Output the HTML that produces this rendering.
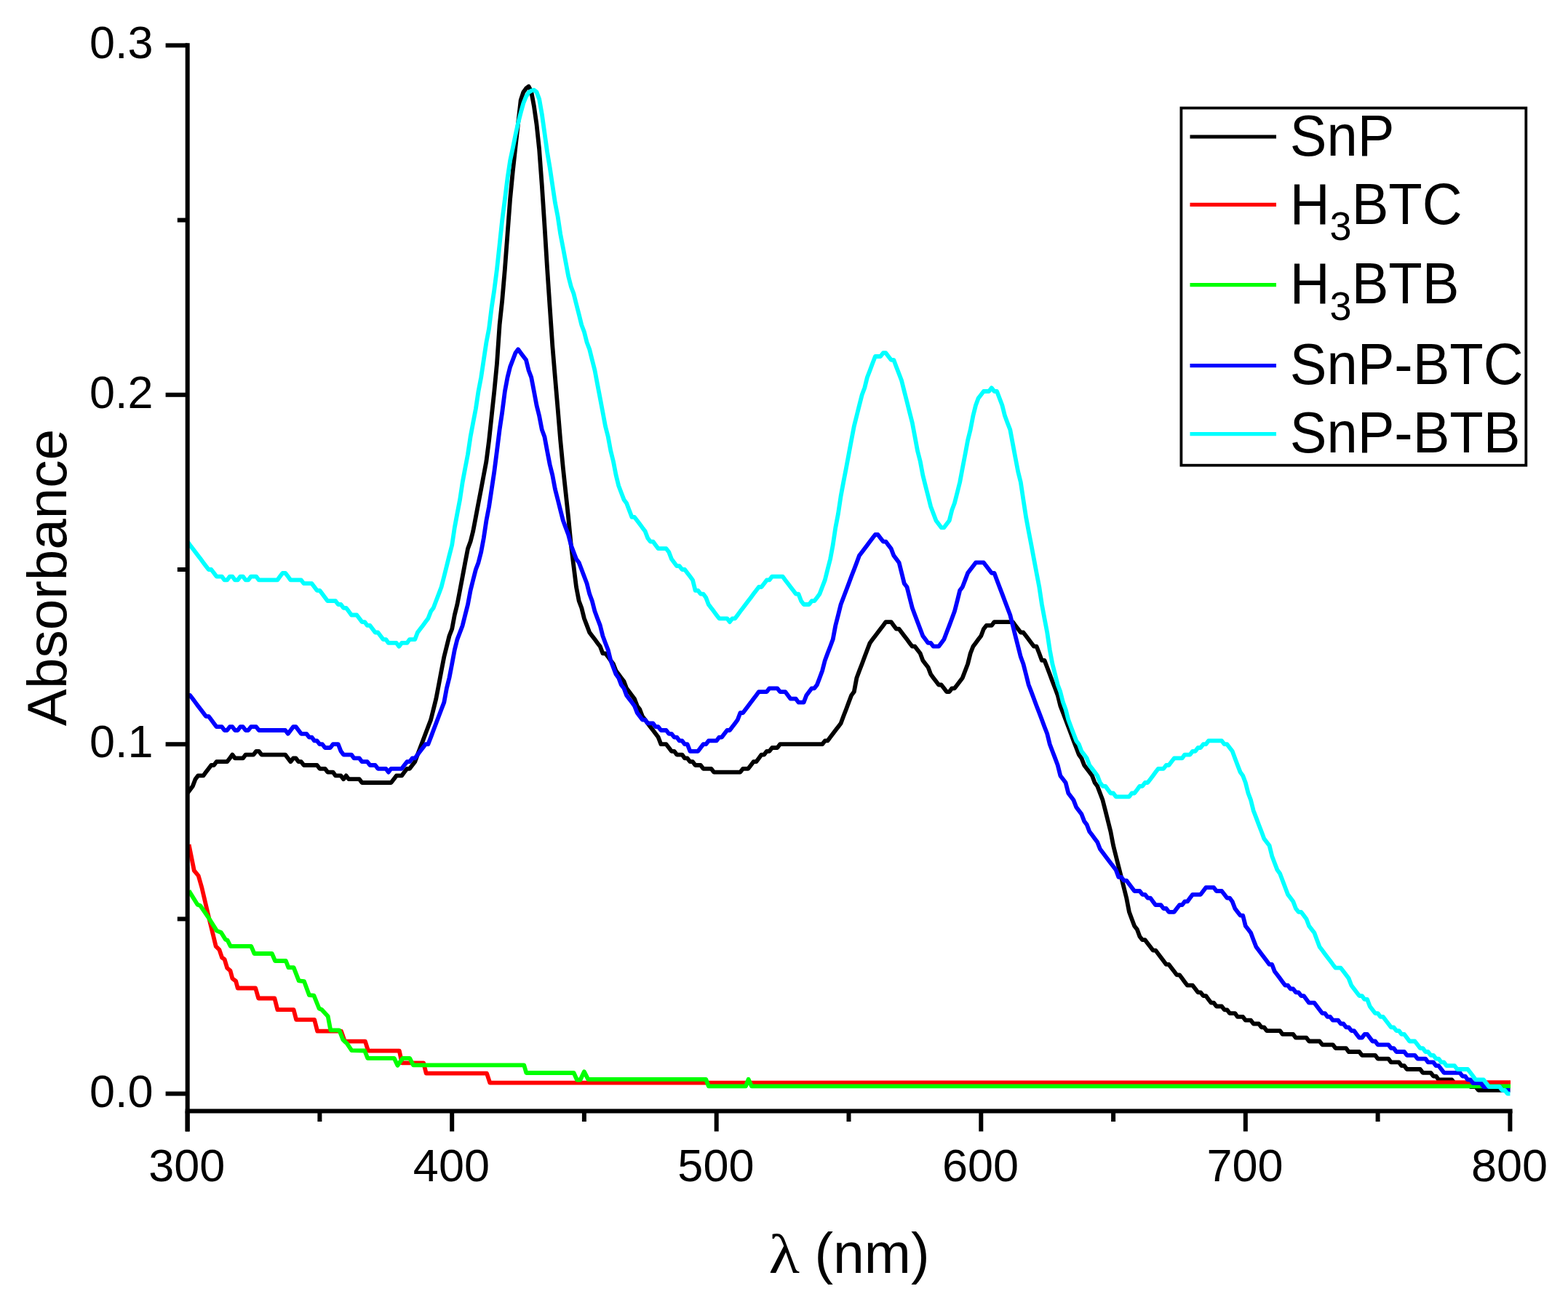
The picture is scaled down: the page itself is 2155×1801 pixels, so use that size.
<!DOCTYPE html>
<html lang="en"><head><meta charset="utf-8"><title>Absorbance</title>
<style>html,body{margin:0;padding:0;background:#fff}body{width:2155px;height:1801px;overflow:hidden}svg{display:block}text{font-family:"Liberation Sans",Arial,sans-serif;fill:#000}.lam{font-family:"Liberation Serif","DejaVu Serif",serif}</style></head><body>
<svg width="2155" height="1801" viewBox="0 0 2155 1801">
<rect width="2155" height="1801" fill="#fff"/>
<g fill="none" stroke-width="5.8" stroke-linejoin="round" stroke-linecap="butt">
<path stroke="#000000" d="M257.6 1090.5 L261.2 1085.7 L264.9 1080.8 L268.5 1071.2 L272.1 1066.4 L279.4 1066.4 L283.0 1061.6 L286.7 1056.8 L290.3 1052.0 L294.0 1052.0 L297.6 1047.2 L312.1 1047.2 L315.8 1042.4 L319.4 1037.6 L323.0 1042.4 L333.9 1042.4 L337.6 1037.6 L348.5 1037.6 L352.1 1032.8 L355.8 1032.8 L359.4 1037.6 L392.1 1037.6 L395.8 1042.4 L399.4 1047.2 L403.0 1042.4 L406.7 1042.4 L410.3 1047.2 L413.9 1047.2 L417.6 1052.0 L435.7 1052.0 L439.4 1056.8 L446.7 1056.8 L450.3 1061.6 L457.6 1061.6 L461.2 1066.4 L468.5 1066.4 L472.1 1071.2 L475.7 1066.4 L479.4 1071.2 L493.9 1071.2 L497.5 1076.0 L537.5 1076.0 L541.2 1071.2 L544.8 1066.4 L552.1 1066.4 L555.7 1061.6 L559.4 1056.8 L563.0 1056.8 L566.6 1052.0 L570.3 1047.2 L573.9 1037.6 L577.5 1028.0 L581.2 1018.4 L584.8 1008.8 L588.4 999.2 L592.1 989.6 L595.7 975.2 L599.3 960.7 L603.0 941.5 L606.6 922.3 L610.3 903.1 L613.9 888.7 L617.5 874.3 L621.2 864.7 L624.8 845.5 L628.4 831.0 L632.1 811.8 L635.7 792.6 L639.3 773.4 L643.0 754.2 L646.6 744.6 L650.2 730.2 L653.9 710.9 L657.5 691.7 L661.2 672.5 L664.8 653.3 L668.4 634.1 L672.1 605.3 L675.7 571.6 L679.3 538.0 L683.0 499.6 L686.6 446.7 L690.2 413.1 L693.9 369.9 L697.5 321.8 L701.1 273.8 L704.8 235.4 L708.4 202.7 L712.1 169.4 L715.7 137.7 L719.3 126.7 L723.0 121.6 L726.6 118.7 L730.2 126.1 L733.9 145.9 L737.5 171.0 L741.1 205.1 L744.8 255.0 L748.4 309.6 L752.0 367.7 L755.7 422.7 L759.3 475.5 L762.9 518.8 L766.6 562.0 L770.2 605.3 L773.9 643.7 L777.5 677.3 L781.1 710.9 L784.8 749.4 L788.4 778.2 L792.0 807.0 L795.7 826.2 L799.3 835.8 L802.9 850.3 L806.6 859.9 L810.2 869.5 L813.8 874.3 L817.5 879.1 L821.1 883.9 L824.8 888.7 L828.4 898.3 L832.0 898.3 L835.7 903.1 L839.3 907.9 L842.9 912.7 L846.6 922.3 L850.2 927.1 L853.8 931.9 L857.5 936.7 L861.1 946.3 L864.7 951.1 L868.4 955.9 L872.0 960.7 L875.7 970.4 L879.3 975.2 L882.9 984.8 L886.6 989.6 L890.2 994.4 L893.8 999.2 L897.5 1004.0 L901.1 1008.8 L904.7 1013.6 L908.4 1023.2 L915.6 1023.2 L919.3 1028.0 L922.9 1032.8 L926.6 1032.8 L930.2 1037.6 L937.5 1037.6 L941.1 1042.4 L944.7 1042.4 L948.4 1047.2 L952.0 1047.2 L955.6 1052.0 L962.9 1052.0 L966.5 1056.8 L977.4 1056.8 L981.1 1061.6 L1017.4 1061.6 L1021.1 1056.8 L1028.3 1056.8 L1032.0 1052.0 L1035.6 1047.2 L1039.3 1047.2 L1042.9 1042.4 L1046.5 1037.6 L1050.2 1037.6 L1053.8 1032.8 L1057.4 1032.8 L1061.1 1028.0 L1068.3 1028.0 L1072.0 1023.2 L1130.1 1023.2 L1133.8 1018.4 L1137.4 1018.4 L1141.1 1013.6 L1144.7 1008.8 L1148.3 1004.0 L1152.0 999.2 L1155.6 994.4 L1159.2 984.8 L1162.9 975.2 L1166.5 965.6 L1170.1 955.9 L1173.8 951.1 L1177.4 931.9 L1181.0 922.3 L1184.7 912.7 L1188.3 903.1 L1191.9 893.5 L1195.6 883.9 L1199.2 879.1 L1202.9 874.3 L1206.5 869.5 L1210.1 864.7 L1213.8 859.9 L1217.4 855.1 L1224.7 855.1 L1228.3 859.9 L1231.9 864.7 L1235.6 864.7 L1239.2 869.5 L1242.8 874.3 L1246.5 879.1 L1250.1 883.9 L1253.8 888.7 L1257.4 888.7 L1261.0 893.5 L1264.7 898.3 L1268.3 907.9 L1271.9 912.7 L1275.6 917.5 L1279.2 927.1 L1282.8 931.9 L1286.5 936.7 L1290.1 941.5 L1293.7 941.5 L1297.4 946.3 L1301.0 951.1 L1304.7 951.1 L1308.3 946.3 L1311.9 946.3 L1315.6 941.5 L1319.2 936.7 L1322.8 931.9 L1326.5 922.3 L1330.1 912.7 L1333.7 898.3 L1337.4 888.7 L1341.0 883.9 L1344.6 879.1 L1348.3 874.3 L1351.9 864.7 L1355.6 859.9 L1362.8 859.9 L1366.5 855.1 L1391.9 855.1 L1395.5 859.9 L1399.2 864.7 L1402.8 869.5 L1406.4 869.5 L1410.1 874.3 L1413.7 879.1 L1417.4 883.9 L1421.0 888.7 L1424.6 888.7 L1428.3 898.3 L1431.9 907.9 L1435.5 907.9 L1439.2 917.5 L1442.8 927.1 L1446.4 936.7 L1450.1 946.3 L1453.7 955.9 L1457.3 970.4 L1461.0 980.0 L1464.6 989.6 L1468.3 999.2 L1471.9 1008.8 L1475.5 1018.4 L1479.2 1028.0 L1482.8 1037.6 L1486.4 1042.4 L1490.1 1052.0 L1493.7 1056.8 L1497.3 1061.6 L1501.0 1066.4 L1504.6 1076.0 L1508.2 1080.8 L1511.9 1090.5 L1515.5 1100.1 L1519.2 1114.5 L1522.8 1128.9 L1526.4 1143.3 L1530.1 1162.5 L1533.7 1176.9 L1537.3 1191.3 L1541.0 1205.8 L1544.6 1220.2 L1548.2 1234.6 L1551.9 1253.8 L1555.5 1263.4 L1559.1 1273.0 L1562.8 1277.8 L1566.4 1287.4 L1570.1 1292.2 L1573.7 1292.2 L1577.3 1297.0 L1581.0 1301.8 L1584.6 1306.6 L1588.2 1306.6 L1591.9 1311.4 L1595.5 1316.2 L1599.1 1321.0 L1602.8 1325.9 L1606.4 1325.9 L1610.0 1330.7 L1613.7 1335.5 L1617.3 1340.3 L1621.0 1340.3 L1624.6 1345.1 L1628.2 1349.9 L1631.9 1354.7 L1639.1 1354.7 L1642.8 1359.5 L1646.4 1364.3 L1650.0 1364.3 L1653.7 1369.1 L1657.3 1369.1 L1660.9 1373.9 L1664.6 1378.7 L1668.2 1378.7 L1671.8 1383.5 L1679.1 1383.5 L1682.8 1388.3 L1686.4 1388.3 L1690.0 1393.1 L1697.3 1393.1 L1700.9 1397.9 L1708.2 1397.9 L1711.8 1402.7 L1719.1 1402.7 L1722.7 1407.5 L1730.0 1407.5 L1733.7 1412.3 L1737.3 1412.3 L1740.9 1417.1 L1759.1 1417.1 L1762.7 1421.9 L1777.3 1421.9 L1780.9 1426.7 L1795.5 1426.7 L1799.1 1431.5 L1813.6 1431.5 L1817.3 1436.3 L1831.8 1436.3 L1835.5 1441.1 L1850.0 1441.1 L1853.6 1446.0 L1868.2 1446.0 L1871.8 1450.8 L1890.0 1450.8 L1893.6 1455.6 L1908.2 1455.6 L1911.8 1460.4 L1922.7 1460.4 L1926.3 1465.2 L1930.0 1465.2 L1933.6 1470.0 L1951.8 1470.0 L1955.4 1474.8 L1966.3 1474.8 L1970.0 1479.6 L1973.6 1479.6 L1977.2 1484.4 L1995.4 1484.4 L1999.1 1489.2 L2017.2 1489.2 L2020.9 1494.0 L2028.1 1494.0 L2031.8 1498.8 L2075.4 1498.8"/>
<path stroke="#ff0000" d="M259.6 1161.0 L266.8 1196.9 L272.7 1204.0 L277.5 1220.8 L285.9 1256.7 L296.7 1301.0 L301.5 1305.8 L305.1 1316.5 L308.6 1318.9 L312.2 1330.9 L316.5 1334.5 L319.4 1345.3 L324.2 1348.9 L326.7 1358.5 L351.2 1358.5 L355.2 1372.5 L377.4 1372.5 L381.4 1388.2 L403.6 1388.2 L407.1 1401.8 L432.1 1401.8 L436.2 1417.7 L469.0 1417.7 L473.8 1431.6 L501.9 1431.6 L506.0 1444.6 L548.8 1444.6 L552.4 1461.3 L582.1 1461.3 L585.7 1475.6 L669.0 1475.6 L673.3 1488.7 L750.0 1488.7 L2076.0 1488.2"/>
<path stroke="#00ff00" d="M259.6 1224.6 L271.5 1243.7 L275.1 1244.9 L285.9 1260.5 L297.9 1279.6 L303.9 1282.0 L309.8 1291.6 L312.7 1292.8 L316.7 1300.8 L345.2 1300.8 L349.5 1311.0 L373.8 1311.0 L378.1 1321.0 L392.9 1321.0 L396.4 1330.1 L403.6 1330.1 L410.7 1348.4 L417.9 1349.1 L425.0 1368.2 L431.4 1368.6 L438.6 1386.5 L442.4 1388.2 L450.7 1397.2 L454.3 1416.3 L466.2 1416.3 L471.4 1429.4 L477.4 1435.3 L483.3 1444.1 L501.2 1444.5 L505.2 1454.8 L541.7 1454.8 L546.4 1464.8 L553.6 1454.8 L563.1 1454.8 L567.9 1464.3 L720.2 1464.3 L723.3 1475.0 L788.6 1475.0 L792.9 1484.5 L797.6 1484.5 L802.9 1473.3 L808.3 1483.8 L970.2 1483.8 L973.8 1493.3 L1025.0 1493.3 L1028.6 1483.8 L1032.9 1493.3 L1200.0 1493.3 L2076.0 1493.3"/>
<path stroke="#0000ff" d="M257.6 955.9 L261.2 955.9 L264.9 960.7 L268.5 965.6 L272.1 970.4 L275.8 975.2 L279.4 980.0 L283.0 984.8 L286.7 984.8 L290.3 989.6 L294.0 994.4 L297.6 999.2 L304.9 999.2 L308.5 1004.0 L312.1 1004.0 L315.8 999.2 L319.4 999.2 L323.0 1004.0 L326.7 1004.0 L330.3 999.2 L333.9 999.2 L337.6 1004.0 L341.2 1004.0 L344.9 999.2 L352.1 999.2 L355.8 1004.0 L392.1 1004.0 L395.8 1008.8 L399.4 1004.0 L403.0 999.2 L406.7 999.2 L410.3 1004.0 L413.9 1008.8 L421.2 1008.8 L424.8 1013.6 L428.5 1013.6 L432.1 1018.4 L435.7 1018.4 L439.4 1023.2 L443.0 1023.2 L446.7 1028.0 L453.9 1028.0 L457.6 1023.2 L464.8 1023.2 L468.5 1032.8 L472.1 1037.6 L483.0 1037.6 L486.6 1042.4 L493.9 1042.4 L497.5 1047.2 L504.8 1047.2 L508.5 1052.0 L515.7 1052.0 L519.4 1056.8 L530.3 1056.8 L533.9 1061.6 L537.5 1056.8 L552.1 1056.8 L555.7 1052.0 L559.4 1047.2 L563.0 1047.2 L566.6 1042.4 L570.3 1042.4 L573.9 1037.6 L577.5 1032.8 L581.2 1028.0 L584.8 1023.2 L588.4 1023.2 L592.1 1013.6 L595.7 1004.0 L599.3 994.4 L603.0 984.8 L606.6 975.2 L610.3 965.6 L613.9 946.3 L617.5 931.9 L621.2 912.7 L624.8 893.5 L628.4 879.1 L632.1 869.5 L635.7 859.9 L639.3 845.5 L643.0 831.0 L646.6 811.8 L650.2 797.4 L653.9 783.0 L657.5 773.4 L661.2 759.0 L664.8 739.8 L668.4 715.7 L672.1 696.5 L675.7 672.5 L679.3 648.5 L683.0 619.7 L686.6 590.8 L690.2 566.8 L693.9 538.0 L697.5 518.8 L701.1 504.4 L704.8 494.8 L708.4 485.2 L712.1 480.3 L715.7 485.2 L719.3 490.0 L723.0 494.8 L726.6 509.2 L730.2 518.8 L733.9 538.0 L737.5 557.2 L741.1 571.6 L744.8 590.8 L748.4 600.4 L752.0 619.7 L755.7 638.9 L759.3 653.3 L762.9 672.5 L766.6 686.9 L770.2 701.3 L773.9 715.7 L777.5 725.4 L781.1 735.0 L784.8 749.4 L788.4 759.0 L792.0 768.6 L795.7 773.4 L799.3 783.0 L802.9 792.6 L806.6 802.2 L810.2 816.6 L813.8 826.2 L817.5 840.6 L821.1 850.3 L824.8 859.9 L828.4 874.3 L832.0 883.9 L835.7 893.5 L839.3 907.9 L842.9 917.5 L846.6 927.1 L850.2 931.9 L853.8 941.5 L857.5 946.3 L861.1 955.9 L864.7 960.7 L868.4 965.6 L872.0 970.4 L875.7 980.0 L879.3 984.8 L882.9 989.6 L886.6 989.6 L890.2 994.4 L897.5 994.4 L901.1 999.2 L904.7 999.2 L908.4 1004.0 L915.6 1004.0 L919.3 1008.8 L922.9 1008.8 L926.6 1013.6 L930.2 1013.6 L933.8 1018.4 L937.5 1018.4 L941.1 1023.2 L944.7 1023.2 L948.4 1032.8 L959.3 1032.8 L962.9 1028.0 L966.5 1023.2 L970.2 1023.2 L973.8 1018.4 L984.7 1018.4 L988.4 1013.6 L992.0 1013.6 L995.6 1008.8 L999.3 1004.0 L1002.9 1004.0 L1006.5 999.2 L1010.2 994.4 L1013.8 989.6 L1017.4 980.0 L1021.1 980.0 L1024.7 975.2 L1028.3 970.4 L1032.0 965.6 L1035.6 960.7 L1039.3 955.9 L1042.9 951.1 L1053.8 951.1 L1057.4 946.3 L1068.3 946.3 L1072.0 951.1 L1079.2 951.1 L1082.9 955.9 L1086.5 960.7 L1093.8 960.7 L1097.4 965.6 L1104.7 965.6 L1108.3 955.9 L1112.0 951.1 L1115.6 946.3 L1119.2 946.3 L1122.9 941.5 L1126.5 931.9 L1130.1 922.3 L1133.8 907.9 L1137.4 898.3 L1141.1 888.7 L1144.7 879.1 L1148.3 859.9 L1152.0 845.5 L1155.6 831.0 L1159.2 821.4 L1162.9 811.8 L1166.5 802.2 L1170.1 792.6 L1173.8 783.0 L1177.4 773.4 L1181.0 763.8 L1184.7 759.0 L1188.3 754.2 L1191.9 749.4 L1195.6 744.6 L1199.2 739.8 L1202.9 735.0 L1206.5 735.0 L1210.1 739.8 L1213.8 744.6 L1217.4 744.6 L1221.0 749.4 L1224.7 754.2 L1228.3 763.8 L1231.9 768.6 L1235.6 773.4 L1239.2 787.8 L1242.8 802.2 L1246.5 807.0 L1250.1 821.4 L1253.8 835.8 L1257.4 845.5 L1261.0 855.1 L1264.7 864.7 L1268.3 874.3 L1271.9 879.1 L1275.6 883.9 L1279.2 883.9 L1282.8 888.7 L1290.1 888.7 L1293.7 883.9 L1297.4 879.1 L1301.0 869.5 L1304.7 859.9 L1308.3 850.3 L1311.9 840.6 L1315.6 826.2 L1319.2 811.8 L1322.8 807.0 L1326.5 797.4 L1330.1 787.8 L1333.7 783.0 L1337.4 778.2 L1341.0 773.4 L1351.9 773.4 L1355.6 778.2 L1359.2 783.0 L1362.8 787.8 L1366.5 787.8 L1370.1 797.4 L1373.7 807.0 L1377.4 816.6 L1381.0 826.2 L1384.6 835.8 L1388.3 845.5 L1391.9 859.9 L1395.5 874.3 L1399.2 888.7 L1402.8 903.1 L1406.4 912.7 L1410.1 927.1 L1413.7 941.5 L1417.4 951.1 L1421.0 960.7 L1424.6 970.4 L1428.3 980.0 L1431.9 989.6 L1435.5 999.2 L1439.2 1008.8 L1442.8 1023.2 L1446.4 1032.8 L1450.1 1042.4 L1453.7 1052.0 L1457.3 1066.4 L1461.0 1071.2 L1464.6 1076.0 L1468.3 1090.5 L1471.9 1095.3 L1475.5 1100.1 L1479.2 1109.7 L1482.8 1114.5 L1486.4 1119.3 L1490.1 1128.9 L1493.7 1133.7 L1497.3 1143.3 L1501.0 1148.1 L1504.6 1152.9 L1508.2 1157.7 L1511.9 1167.3 L1515.5 1172.1 L1519.2 1176.9 L1522.8 1181.7 L1526.4 1186.5 L1530.1 1191.3 L1533.7 1196.1 L1537.3 1205.8 L1541.0 1205.8 L1544.6 1210.6 L1548.2 1210.6 L1551.9 1215.4 L1555.5 1220.2 L1559.1 1225.0 L1566.4 1225.0 L1570.1 1229.8 L1573.7 1229.8 L1577.3 1234.6 L1581.0 1234.6 L1584.6 1239.4 L1588.2 1244.2 L1595.5 1244.2 L1599.1 1249.0 L1602.8 1249.0 L1606.4 1253.8 L1613.7 1253.8 L1617.3 1249.0 L1621.0 1244.2 L1624.6 1244.2 L1628.2 1239.4 L1631.9 1239.4 L1635.5 1234.6 L1639.1 1229.8 L1650.0 1229.8 L1653.7 1225.0 L1657.3 1220.2 L1668.2 1220.2 L1671.8 1225.0 L1679.1 1225.0 L1682.8 1229.8 L1686.4 1234.6 L1690.0 1234.6 L1693.7 1239.4 L1697.3 1249.0 L1700.9 1253.8 L1704.6 1258.6 L1708.2 1258.6 L1711.8 1273.0 L1715.5 1277.8 L1719.1 1282.6 L1722.7 1292.2 L1726.4 1301.8 L1730.0 1306.6 L1733.7 1311.4 L1737.3 1316.2 L1740.9 1321.0 L1744.6 1325.9 L1748.2 1325.9 L1751.8 1335.5 L1755.5 1340.3 L1759.1 1345.1 L1762.7 1349.9 L1766.4 1354.7 L1770.0 1354.7 L1773.6 1359.5 L1777.3 1359.5 L1780.9 1364.3 L1784.6 1364.3 L1788.2 1369.1 L1791.8 1369.1 L1795.5 1373.9 L1799.1 1378.7 L1806.4 1378.7 L1810.0 1383.5 L1813.6 1388.3 L1817.3 1393.1 L1820.9 1393.1 L1824.5 1397.9 L1828.2 1397.9 L1831.8 1402.7 L1839.1 1402.7 L1842.7 1407.5 L1846.4 1407.5 L1850.0 1412.3 L1853.6 1412.3 L1857.3 1417.1 L1860.9 1417.1 L1864.5 1421.9 L1868.2 1426.7 L1871.8 1426.7 L1875.4 1421.9 L1879.1 1421.9 L1882.7 1426.7 L1886.3 1431.5 L1890.0 1431.5 L1893.6 1436.3 L1908.2 1436.3 L1911.8 1441.1 L1915.4 1441.1 L1919.1 1446.0 L1930.0 1446.0 L1933.6 1450.8 L1944.5 1450.8 L1948.2 1455.6 L1959.1 1455.6 L1962.7 1460.4 L1970.0 1460.4 L1973.6 1465.2 L1977.2 1465.2 L1980.9 1470.0 L1984.5 1474.8 L2006.3 1474.8 L2010.0 1479.6 L2013.6 1479.6 L2017.2 1484.4 L2020.9 1484.4 L2024.5 1489.2 L2035.4 1489.2 L2039.0 1494.0 L2060.9 1494.0 L2064.5 1498.8 L2075.4 1498.8"/>
<path stroke="#00ffff" d="M257.6 744.6 L261.2 749.4 L264.9 754.2 L268.5 759.0 L272.1 763.8 L275.8 768.6 L279.4 773.4 L283.0 778.2 L286.7 783.0 L290.3 783.0 L294.0 787.8 L297.6 792.6 L304.9 792.6 L308.5 797.4 L312.1 797.4 L315.8 792.6 L319.4 792.6 L323.0 797.4 L326.7 797.4 L330.3 792.6 L333.9 792.6 L337.6 797.4 L341.2 797.4 L344.9 792.6 L352.1 792.6 L355.8 797.4 L381.2 797.4 L384.8 792.6 L388.5 787.8 L392.1 787.8 L395.8 792.6 L399.4 797.4 L413.9 797.4 L417.6 802.2 L428.5 802.2 L432.1 807.0 L435.7 811.8 L439.4 811.8 L443.0 816.6 L446.7 821.4 L450.3 826.2 L461.2 826.2 L464.8 831.0 L468.5 831.0 L472.1 835.8 L475.7 835.8 L479.4 840.6 L483.0 845.5 L490.3 845.5 L493.9 850.3 L497.5 855.1 L501.2 855.1 L504.8 859.9 L508.5 859.9 L512.1 864.7 L515.7 869.5 L519.4 869.5 L523.0 874.3 L526.6 879.1 L530.3 879.1 L533.9 883.9 L544.8 883.9 L548.4 888.7 L552.1 883.9 L559.4 883.9 L563.0 879.1 L570.3 879.1 L573.9 869.5 L577.5 864.7 L581.2 859.9 L584.8 855.1 L588.4 850.3 L592.1 840.6 L595.7 835.8 L599.3 826.2 L603.0 816.6 L606.6 807.0 L610.3 792.6 L613.9 778.2 L617.5 763.8 L621.2 749.4 L624.8 725.4 L628.4 706.1 L632.1 686.9 L635.7 662.9 L639.3 643.7 L643.0 624.5 L646.6 600.4 L650.2 581.2 L653.9 562.0 L657.5 538.0 L661.2 518.8 L664.8 494.8 L668.4 470.7 L672.1 451.5 L675.7 422.7 L679.3 398.7 L683.0 369.9 L686.6 336.2 L690.2 302.6 L693.9 273.8 L697.5 245.0 L701.1 220.9 L704.8 203.7 L708.4 185.7 L712.1 169.2 L715.7 155.0 L719.3 142.0 L723.0 132.9 L726.6 126.9 L730.2 124.8 L733.9 123.7 L737.5 126.6 L741.1 136.1 L744.8 156.9 L748.4 182.6 L752.0 208.5 L755.7 230.5 L759.3 254.6 L762.9 278.6 L766.6 297.8 L770.2 321.8 L773.9 341.0 L777.5 360.2 L781.1 379.5 L784.8 393.9 L788.4 403.5 L792.0 417.9 L795.7 432.3 L799.3 446.7 L802.9 456.3 L806.6 470.7 L810.2 480.3 L813.8 494.8 L817.5 509.2 L821.1 528.4 L824.8 547.6 L828.4 566.8 L832.0 586.0 L835.7 600.4 L839.3 619.7 L842.9 634.1 L846.6 653.3 L850.2 667.7 L853.8 677.3 L857.5 686.9 L861.1 691.7 L864.7 701.3 L868.4 710.9 L872.0 710.9 L875.7 715.7 L879.3 720.5 L882.9 725.4 L886.6 730.2 L890.2 739.8 L893.8 744.6 L897.5 744.6 L901.1 749.4 L904.7 754.2 L915.6 754.2 L919.3 759.0 L922.9 768.6 L926.6 773.4 L930.2 778.2 L933.8 778.2 L937.5 783.0 L941.1 783.0 L944.7 787.8 L948.4 792.6 L952.0 797.4 L955.6 811.8 L959.3 811.8 L962.9 816.6 L966.5 816.6 L970.2 821.4 L973.8 831.0 L977.4 835.8 L981.1 840.6 L984.7 845.5 L988.4 850.3 L999.3 850.3 L1002.9 855.1 L1006.5 850.3 L1010.2 850.3 L1013.8 845.5 L1017.4 840.6 L1021.1 835.8 L1024.7 831.0 L1028.3 826.2 L1032.0 821.4 L1035.6 816.6 L1039.3 811.8 L1042.9 807.0 L1046.5 807.0 L1050.2 802.2 L1053.8 797.4 L1057.4 797.4 L1061.1 792.6 L1075.6 792.6 L1079.2 797.4 L1082.9 802.2 L1086.5 807.0 L1090.2 811.8 L1093.8 816.6 L1097.4 816.6 L1101.1 826.2 L1104.7 831.0 L1112.0 831.0 L1115.6 826.2 L1119.2 826.2 L1122.9 821.4 L1126.5 816.6 L1130.1 807.0 L1133.8 797.4 L1137.4 783.0 L1141.1 768.6 L1144.7 749.4 L1148.3 725.4 L1152.0 706.1 L1155.6 682.1 L1159.2 662.9 L1162.9 643.7 L1166.5 624.5 L1170.1 605.3 L1173.8 586.0 L1177.4 571.6 L1181.0 557.2 L1184.7 542.8 L1188.3 533.2 L1191.9 518.8 L1195.6 509.2 L1199.2 499.6 L1202.9 490.0 L1210.1 490.0 L1213.8 485.2 L1217.4 485.2 L1221.0 490.0 L1224.7 494.8 L1228.3 494.8 L1231.9 504.4 L1235.6 514.0 L1239.2 523.6 L1242.8 538.0 L1246.5 552.4 L1250.1 566.8 L1253.8 581.2 L1257.4 600.4 L1261.0 619.7 L1264.7 634.1 L1268.3 653.3 L1271.9 667.7 L1275.6 682.1 L1279.2 696.5 L1282.8 706.1 L1286.5 715.7 L1290.1 720.5 L1293.7 725.4 L1297.4 725.4 L1301.0 720.5 L1304.7 715.7 L1308.3 701.3 L1311.9 691.7 L1315.6 677.3 L1319.2 662.9 L1322.8 643.7 L1326.5 624.5 L1330.1 605.3 L1333.7 590.8 L1337.4 571.6 L1341.0 557.2 L1344.6 547.6 L1348.3 542.8 L1351.9 538.0 L1359.2 538.0 L1362.8 533.2 L1366.5 538.0 L1370.1 538.0 L1373.7 547.6 L1377.4 557.2 L1381.0 571.6 L1384.6 581.2 L1388.3 590.8 L1391.9 610.1 L1395.5 629.3 L1399.2 648.5 L1402.8 662.9 L1406.4 686.9 L1410.1 710.9 L1413.7 730.2 L1417.4 749.4 L1421.0 768.6 L1424.6 787.8 L1428.3 807.0 L1431.9 831.0 L1435.5 850.3 L1439.2 869.5 L1442.8 893.5 L1446.4 912.7 L1450.1 927.1 L1453.7 941.5 L1457.3 951.1 L1461.0 965.6 L1464.6 975.2 L1468.3 989.6 L1471.9 999.2 L1475.5 1008.8 L1479.2 1018.4 L1482.8 1023.2 L1486.4 1032.8 L1490.1 1037.6 L1493.7 1042.4 L1497.3 1052.0 L1501.0 1056.8 L1504.6 1061.6 L1508.2 1066.4 L1511.9 1076.0 L1515.5 1080.8 L1519.2 1080.8 L1522.8 1085.7 L1526.4 1090.5 L1530.1 1090.5 L1533.7 1095.3 L1551.9 1095.3 L1555.5 1090.5 L1559.1 1090.5 L1562.8 1085.7 L1566.4 1080.8 L1570.1 1080.8 L1573.7 1076.0 L1577.3 1076.0 L1581.0 1071.2 L1584.6 1066.4 L1588.2 1061.6 L1591.9 1056.8 L1599.1 1056.8 L1602.8 1052.0 L1606.4 1052.0 L1610.0 1047.2 L1613.7 1042.4 L1624.6 1042.4 L1628.2 1037.6 L1635.5 1037.6 L1639.1 1032.8 L1642.8 1032.8 L1646.4 1028.0 L1650.0 1028.0 L1653.7 1023.2 L1657.3 1023.2 L1660.9 1018.4 L1679.1 1018.4 L1682.8 1023.2 L1686.4 1023.2 L1690.0 1028.0 L1693.7 1032.8 L1697.3 1042.4 L1700.9 1052.0 L1704.6 1061.6 L1708.2 1066.4 L1711.8 1076.0 L1715.5 1090.5 L1719.1 1100.1 L1722.7 1114.5 L1726.4 1124.1 L1730.0 1133.7 L1733.7 1143.3 L1737.3 1152.9 L1740.9 1157.7 L1744.6 1162.5 L1748.2 1176.9 L1751.8 1186.5 L1755.5 1196.1 L1759.1 1200.9 L1762.7 1210.6 L1766.4 1220.2 L1770.0 1229.8 L1773.6 1234.6 L1777.3 1239.4 L1780.9 1249.0 L1784.6 1253.8 L1788.2 1253.8 L1791.8 1258.6 L1795.5 1263.4 L1799.1 1273.0 L1802.7 1277.8 L1806.4 1282.6 L1810.0 1292.2 L1813.6 1301.8 L1817.3 1306.6 L1820.9 1311.4 L1824.5 1316.2 L1828.2 1321.0 L1831.8 1325.9 L1835.5 1330.7 L1842.7 1330.7 L1846.4 1335.5 L1850.0 1340.3 L1853.6 1345.1 L1857.3 1354.7 L1860.9 1359.5 L1864.5 1364.3 L1868.2 1369.1 L1871.8 1369.1 L1875.4 1373.9 L1879.1 1373.9 L1882.7 1383.5 L1886.3 1388.3 L1890.0 1393.1 L1893.6 1393.1 L1897.3 1397.9 L1900.9 1397.9 L1904.5 1402.7 L1908.2 1407.5 L1911.8 1412.3 L1915.4 1412.3 L1919.1 1417.1 L1922.7 1417.1 L1926.3 1421.9 L1930.0 1421.9 L1933.6 1426.7 L1937.2 1431.5 L1944.5 1431.5 L1948.2 1436.3 L1951.8 1441.1 L1955.4 1441.1 L1959.1 1446.0 L1962.7 1446.0 L1966.3 1450.8 L1970.0 1450.8 L1973.6 1455.6 L1977.2 1455.6 L1980.9 1460.4 L1984.5 1460.4 L1988.1 1465.2 L1999.1 1465.2 L2002.7 1470.0 L2017.2 1470.0 L2020.9 1474.8 L2024.5 1479.6 L2028.1 1484.4 L2039.0 1484.4 L2042.7 1489.2 L2046.3 1494.0 L2060.9 1494.0 L2064.5 1498.8 L2068.1 1498.8 L2071.8 1503.6 L2075.4 1503.6"/>
</g>
<g stroke="#000" stroke-width="6" fill="none" stroke-linecap="butt">
<path d="M257.7 59.2 V1555.5"/>
<path d="M254.7 1527.5 H2078.6"/>
<path d="M257.6 1527.5 V1555.5"/>
<path d="M621.2 1527.5 V1555.5"/>
<path d="M984.7 1527.5 V1555.5"/>
<path d="M1348.3 1527.5 V1555.5"/>
<path d="M1711.8 1527.5 V1555.5"/>
<path d="M2075.4 1527.5 V1555.5"/>
<path d="M439.4 1527.5 V1542.0"/>
<path d="M802.9 1527.5 V1542.0"/>
<path d="M1166.5 1527.5 V1542.0"/>
<path d="M1530.1 1527.5 V1542.0"/>
<path d="M1893.6 1527.5 V1542.0"/>
<path d="M227.6 1503.6 H257.7"/>
<path d="M227.6 1023.2 H257.7"/>
<path d="M227.6 542.8 H257.7"/>
<path d="M227.6 62.4 H257.7"/>
<path d="M243.8 1263.4 H257.7"/>
<path d="M243.8 783.0 H257.7"/>
<path d="M243.8 302.6 H257.7"/>
</g>
<g font-size="63">
<text transform="translate(256.8 1624.3) scale(1 1.012)" text-anchor="middle">300</text>
<text transform="translate(620.4 1624.3) scale(1 1.012)" text-anchor="middle">400</text>
<text transform="translate(983.9 1624.3) scale(1 1.012)" text-anchor="middle">500</text>
<text transform="translate(1347.5 1624.3) scale(1 1.012)" text-anchor="middle">600</text>
<text transform="translate(1711.0 1624.3) scale(1 1.012)" text-anchor="middle">700</text>
<text transform="translate(2074.6 1624.3) scale(1 1.012)" text-anchor="middle">800</text>
<text transform="translate(210.5 1521.6) scale(1 1.012)" text-anchor="end">0.0</text>
<text transform="translate(210.5 1041.2) scale(1 1.012)" text-anchor="end">0.1</text>
<text transform="translate(210.5 560.8) scale(1 1.012)" text-anchor="end">0.2</text>
<text transform="translate(210.5 80.4) scale(1 1.012)" text-anchor="end">0.3</text>
</g>
<text y="1750.4" font-size="77"><tspan class="lam" x="1056.5" font-size="76.8" textLength="42.5" lengthAdjust="spacingAndGlyphs">λ</tspan><tspan x="1098"> (nm)</tspan></text>
<text transform="translate(90.5 794) rotate(-90)" text-anchor="middle" font-size="76.5">Absorbance</text>
<g>
<rect x="1623.4" y="148.5" width="473.9" height="491.2" fill="#fff" stroke="#000" stroke-width="3.8"/>
<g stroke-width="5.2" stroke-linecap="butt" fill="none">
<path stroke="#000" d="M1635.5 188H1754"/>
<path stroke="#f00" d="M1635.5 281.3H1754"/>
<path stroke="#0f0" d="M1635.5 391.6H1754"/>
<path stroke="#00f" d="M1635.5 502.6H1754"/>
<path stroke="#0ff" d="M1635.5 596.6H1754"/>
</g>
<g font-size="76">
<text transform="translate(1772.7 214) scale(1 1.045)">SnP</text>
<text transform="translate(1772.7 308) scale(1 1.045)">H<tspan font-size="54" dy="21">3</tspan><tspan dy="-21">BTC</tspan></text>
<text transform="translate(1772.7 417) scale(1 1.045)">H<tspan font-size="54" dy="22.4">3</tspan><tspan dy="-22.4">BTB</tspan></text>
<text transform="translate(1772.7 528) scale(1 1.045)">SnP-BTC</text>
<text transform="translate(1772.7 621.5) scale(1 1.045)">SnP-BTB</text>
</g>
</g>
</svg></body></html>
